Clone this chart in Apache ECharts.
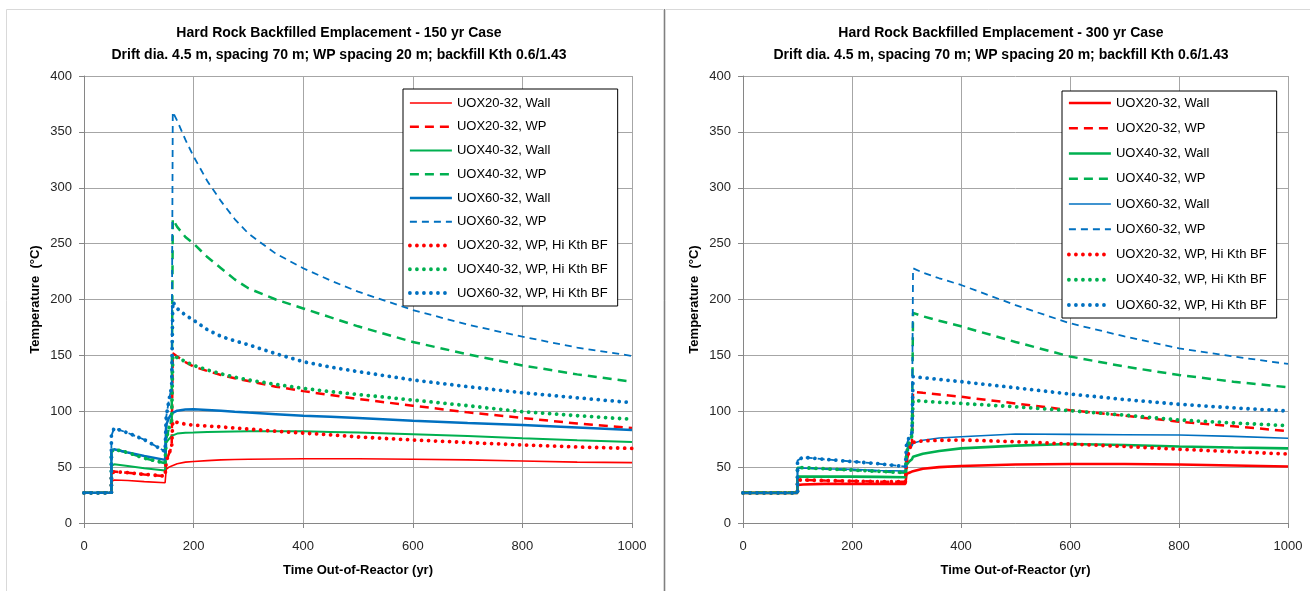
<!DOCTYPE html>
<html>
<head>
<meta charset="utf-8">
<script src="https://cdn.jsdelivr.net/npm/echarts@6/dist/echarts.min.js"></script>
<style>
  html, body { margin: 0; padding: 0; background: #fff; }
  #chart { width: 1310px; height: 591px; }
</style>
</head>
<body>
<div id="chart"></div>
<script>
// Time axis samples (yr out of reactor) for each case
const timeL = [0, 50, 50, 55, 80, 110, 148, 150, 155, 160, 162, 170, 185, 200, 225, 250, 275, 300, 350, 400, 450, 500, 600, 700, 800, 900, 1000];
const timeR = [0, 100, 100, 110, 150, 200, 250, 298, 300, 305, 310, 312, 330, 360, 400, 500, 600, 700, 800, 900, 1000];

const seriesNames = [
  'UOX20-32, Wall', 'UOX20-32, WP', 'UOX40-32, Wall', 'UOX40-32, WP',
  'UOX60-32, Wall', 'UOX60-32, WP',
  'UOX20-32, WP, Hi Kth BF', 'UOX40-32, WP, Hi Kth BF', 'UOX60-32, WP, Hi Kth BF'
];

// 150 yr case temperatures (°C)
const L_uox20Wall = [27, 27, 37, 38.5, 38, 37, 36, 48, 50, 51, 52, 53, 54.5, 55, 55.8, 56.5, 56.8, 57, 57.3, 57.5, 57.5, 57.5, 57, 56.5, 55.5, 54.5, 54];
const L_uox20WP   = [27, 27, 44, 46, 45, 43.5, 42, 55, 62, 68, 152, 149, 144, 140, 136, 132.5, 129.5, 127, 122, 118, 114.5, 111, 105, 99, 94, 89, 85];
const L_uox40Wall = [27, 27, 51, 52.5, 51, 49, 47, 72, 75, 78, 79, 80, 80.8, 81, 81.4, 81.7, 81.9, 82, 82, 82, 81.5, 81, 79.5, 77.8, 75.8, 74, 72.5];
const L_uox40WP   = [27, 27, 64, 66, 63, 58, 53.5, 75, 85, 92, 272, 265, 256, 250, 238, 228, 218, 210, 200, 192, 184, 176, 162, 151, 141, 133, 126.5];
const L_uox60Wall = [27, 27, 64, 66, 63, 60, 56.5, 88, 94, 98, 99.5, 100.5, 101.5, 101.7, 101.2, 100.5, 99.6, 98.8, 97.4, 96, 95, 94, 91.6, 89.5, 87.7, 85.5, 83.3];
const L_uox60WP   = [27, 27, 78, 85, 80.6, 74.6, 64, 95, 110, 122, 368, 360, 343, 328, 306, 288, 272, 259, 241, 228, 217, 207, 190.6, 177.5, 166.7, 157, 149.5];
const L_uox20Hi   = [27, 27, 44, 46, 45, 43.5, 42, 55, 62, 68, 91, 90, 88.5, 87.5, 86.8, 86, 85, 84, 82.2, 80.5, 78.8, 77, 74.3, 72, 69.8, 68, 66.8];
const L_uox40Hi   = [27, 27, 64, 66, 63, 58, 53.5, 75, 85, 92, 150, 148, 144.5, 141, 137, 133.5, 130.5, 128, 124, 120.5, 117.5, 115, 110, 105, 99.6, 96, 92.8];
const L_uox60Hi   = [27, 27, 78, 85, 80.6, 74.6, 64, 95, 110, 122, 198, 192, 186, 181.5, 173, 167, 163, 159.5, 151.5, 144.4, 139.5, 135.5, 128, 122, 116.6, 112, 107.7];

// 300 yr case temperatures (°C)
const R_uox20Wall = [27, 27, 34, 34.5, 35, 35, 35, 35, 44, 45, 46, 47, 48.5, 50, 51, 52.3, 52.8, 52.8, 52.3, 51.5, 50.5];
const R_uox20WP   = [27, 27, 38.5, 38.5, 38, 37.5, 37, 37, 55, 65, 72, 117.5, 116.5, 115, 113, 107, 101, 96, 90.7, 86.5, 82.3];
const R_uox40Wall = [27, 27, 41.5, 41.5, 41.5, 41.5, 41.3, 41, 52, 55, 57, 59.3, 62, 64.5, 66.8, 69.2, 70.7, 69.8, 68.5, 67.6, 66.8];
const R_uox40WP   = [27, 27, 49.5, 49.5, 48.5, 47.4, 46.2, 45, 62, 72, 78, 188, 185, 181, 176, 162, 149, 140, 132.4, 126.5, 121.4];
const R_uox60Wall = [27, 27, 49, 49.2, 48.5, 48, 47, 46.5, 64, 67, 69, 71.3, 74, 76, 77.2, 79.6, 79.3, 79, 78.7, 77.5, 75.8];
const R_uox60WP   = [27, 27, 56, 58.8, 57, 55, 53, 50.5, 70, 77, 81, 228, 224, 219, 213, 195, 178.7, 167, 156.3, 149, 142.3];
const R_uox20Hi   = [27, 27, 38.5, 38.5, 38, 37.5, 37, 37, 55, 65, 72, 72.8, 73.5, 74, 74.3, 72.8, 70.7, 68.5, 66, 63.8, 61.7];
const R_uox40Hi   = [27, 27, 49.5, 49.5, 48.5, 47.4, 46.2, 45, 62, 72, 78, 109.5, 109, 108, 107, 104, 100.5, 96.5, 92.2, 89.5, 87.1];
const R_uox60Hi   = [27, 27, 56, 58.8, 57, 55, 53, 50.5, 70, 77, 81, 131, 130, 128.5, 126.5, 121, 115.4, 110.5, 106.2, 103, 100.2];

const RED = '#FF0000', GREEN = '#00B050', BLUE = '#0070C0';
const FONT = "'Liberation Sans', Arial, sans-serif";

function solid(color, width) { return { color, width, type: 'solid', cap: 'butt' }; }
function dashed(color, width, dash) { return { color, width, type: dash, cap: 'butt' }; }
function dotted(color) { return { color, width: 3.8, type: [0.01, 7], cap: 'round' }; }

const stylesL = [
  solid(RED, 1.6), dashed(RED, 2.5, [9, 6]),
  solid(GREEN, 2), dashed(GREEN, 2.5, [9, 6]),
  solid(BLUE, 2.5), dashed(BLUE, 1.8, [7, 5]),
  dotted(RED), dotted(GREEN), dotted(BLUE)
];
const stylesR = [
  solid(RED, 2.6), dashed(RED, 2.5, [9, 6]),
  solid(GREEN, 2.6), dashed(GREEN, 2.5, [9, 6]),
  solid(BLUE, 1.6), dashed(BLUE, 1.8, [7, 5]),
  dotted(RED), dotted(GREEN), dotted(BLUE)
];

const valuesL = [L_uox20Wall, L_uox20WP, L_uox40Wall, L_uox40WP, L_uox60Wall, L_uox60WP, L_uox20Hi, L_uox40Hi, L_uox60Hi];
const valuesR = [R_uox20Wall, R_uox20WP, R_uox40Wall, R_uox40WP, R_uox60Wall, R_uox60WP, R_uox20Hi, R_uox40Hi, R_uox60Hi];

// Right-hand panel series carry a trailing space so each legend keeps its own line styles
const namesR = seriesNames.map(n => n + ' ');

function buildSeries(names, times, values, styles, idx) {
  return names.map((name, i) => ({
    name,
    type: 'line',
    xAxisIndex: idx,
    yAxisIndex: idx,
    data: times.map((t, k) => [t, values[i][k]]),
    symbol: 'none',
    showSymbol: false,
    smooth: false,
    lineStyle: styles[i],
    itemStyle: { color: styles[i].color },
    emphasis: { disabled: true },
    animation: false,
    z: 2 + i
  }));
}

function yAxis(idx) {
  return {
    gridIndex: idx, type: 'value', min: 0, max: 400, interval: 50,
    name: 'Temperature  (°C)', nameLocation: 'middle', nameGap: 42, nameRotate: 90,
    nameTextStyle: { fontFamily: FONT, fontSize: 13, fontWeight: 'bold', color: '#000' },
    axisLine: { show: true, lineStyle: { color: '#868686', width: 1 } },
    axisTick: { show: true, length: 5, lineStyle: { color: '#868686' } },
    axisLabel: { fontFamily: FONT, fontSize: 13, color: '#262626', margin: 12 },
    splitLine: { show: true, lineStyle: { color: '#a6a6a6', width: 1 } }
  };
}
function xAxis(idx) {
  return {
    gridIndex: idx, type: 'value', min: 0, max: 1000, interval: 200,
    name: 'Time Out-of-Reactor (yr)', nameLocation: 'middle', nameGap: 41,
    nameTextStyle: { fontFamily: FONT, fontSize: 13, fontWeight: 'bold', color: '#000' },
    axisLine: { show: true, onZero: false, lineStyle: { color: '#868686', width: 1 } },
    axisTick: { show: true, length: 5, lineStyle: { color: '#868686' } },
    axisLabel: { fontFamily: FONT, fontSize: 13, color: '#262626', margin: 17, formatter: v => String(v) },
    splitLine: { show: true, lineStyle: { color: '#a6a6a6', width: 1 } }
  };
}
function legend(names, styles, left, top, gap, pad) {
  return {
    data: names.map((n, i) => ({
      name: n,
      lineStyle: { color: styles[i].color, width: styles[i].width, type: styles[i].type, cap: styles[i].cap }
    })),
    orient: 'vertical', left, top,
    itemWidth: 42, itemHeight: 14, itemGap: gap,
    padding: pad, backgroundColor: '#fff', borderColor: '#000', borderWidth: 1,
    formatter: n => n.trim(),
    itemStyle: { opacity: 0 },
    textStyle: { fontFamily: FONT, fontSize: 13, color: '#000', lineHeight: 14 },
    selectedMode: false
  };
}

const chart = echarts.init(document.getElementById('chart'), null, { renderer: 'canvas' });
chart.setOption({
  backgroundColor: '#fff',
  animation: false,
  title: [
    {
      text: 'Hard Rock Backfilled Emplacement - 150 yr Case\nDrift dia. 4.5 m, spacing 70 m; WP spacing 20 m; backfill Kth 0.6/1.43',
      left: 334, top: 17, textAlign: 'center',
      textStyle: { fontFamily: FONT, fontSize: 14, fontWeight: 'bold', color: '#000', lineHeight: 22 }
    },
    {
      text: 'Hard Rock Backfilled Emplacement - 300 yr Case\nDrift dia. 4.5 m, spacing 70 m; WP spacing 20 m; backfill Kth 0.6/1.43',
      left: 996, top: 17, textAlign: 'center',
      textStyle: { fontFamily: FONT, fontSize: 14, fontWeight: 'bold', color: '#000', lineHeight: 22 }
    }
  ],
  graphic: [
    { type: 'rect', shape: { x: 6.5, y: 9.5, width: 657, height: 600 }, style: { fill: 'none', stroke: '#d9d9d9', lineWidth: 1 }, z: 0 },
    { type: 'rect', shape: { x: 665.5, y: 9.5, width: 660, height: 600 }, style: { fill: 'none', stroke: '#d9d9d9', lineWidth: 1 }, z: 0 },
    { type: 'line', shape: { x1: 664.5, y1: 9, x2: 664.5, y2: 591 }, style: { stroke: '#808080', lineWidth: 1 }, z: 0 }
  ],
  grid: [
    { left: 84, right: 678, top: 76, bottom: 68 },
    { left: 743, right: 22, top: 76, bottom: 68 }
  ],
  xAxis: [xAxis(0), xAxis(1)],
  yAxis: [yAxis(0), yAxis(1)],
  legend: [
    legend(seriesNames, stylesL, 403, 89, 9.75, [7, 10, 6, 5]),
    legend(namesR, stylesR, 1062, 91, 11.25, [5, 10, 6, 5])
  ],
  series: [
    ...buildSeries(seriesNames, timeL, valuesL, stylesL, 0),
    ...buildSeries(namesR, timeR, valuesR, stylesR, 1)
  ]
});
</script>
</body>
</html>
